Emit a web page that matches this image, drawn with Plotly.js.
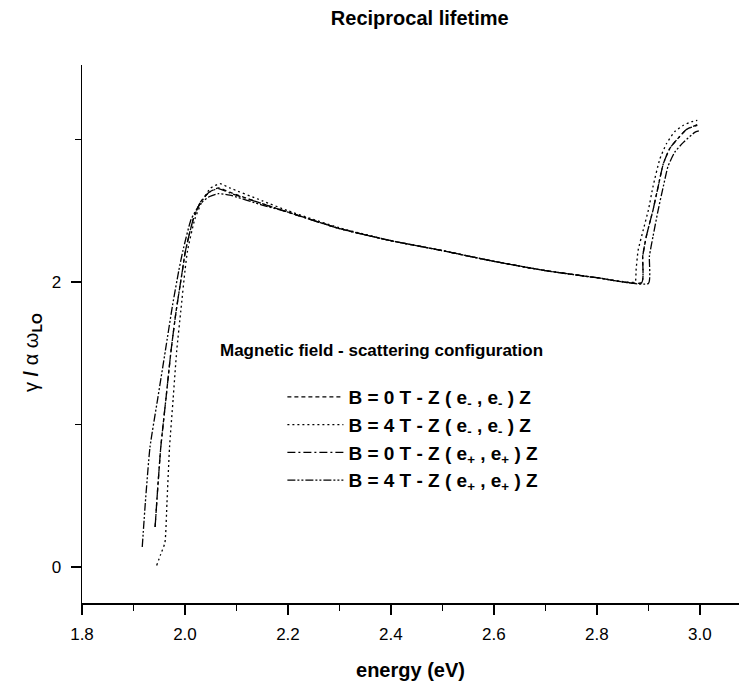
<!DOCTYPE html>
<html>
<head>
<meta charset="utf-8">
<script src="https://cdn.plot.ly/plotly-3.0.1.min.js"></script>
<style>html,body{margin:0;padding:0;background:#fff;}#chart{width:739px;height:692px;}</style>
</head>
<body>
<div id="chart"></div>
<script>
// B = 0 T - Z(e-,e-)  (dashed)
const energyA = [1.942,1.947,1.953,1.963,1.973,1.983,1.995,2.001,2.016,2.030,2.047,2.065,2.087,2.15,2.2,2.3,2.4,2.5,2.6,2.7,2.8,2.887,2.889,2.896,2.909,2.919,2.929,2.942,2.958,2.974,2.995];
const gammaA  = [0.28,0.55,0.84,1.18,1.52,1.80,2.08,2.22,2.44,2.56,2.63,2.66,2.63,2.55,2.49,2.375,2.29,2.22,2.145,2.08,2.03,1.995,2.18,2.32,2.505,2.67,2.83,2.94,3.01,3.07,3.105];
// B = 4 T - Z(e-,e-)  (dotted)
const energyB = [1.945,1.953,1.961,1.965,1.970,1.977,1.984,1.992,2.000,2.005,2.019,2.035,2.050,2.068,2.087,2.15,2.2,2.3,2.4,2.5,2.6,2.7,2.8,2.874,2.876,2.880,2.890,2.900,2.909,2.922,2.935,2.951,2.968,2.984,2.995];
const gammaB  = [0.01,0.09,0.17,0.45,0.84,1.18,1.52,1.80,2.08,2.22,2.44,2.58,2.66,2.69,2.66,2.57,2.50,2.38,2.29,2.22,2.145,2.08,2.03,2.0,2.08,2.22,2.365,2.505,2.67,2.86,2.97,3.055,3.10,3.125,3.135];
// B = 0 T - Z(e+,e+)  (dash-dot)
const energyC = [1.942,1.947,1.953,1.963,1.973,1.983,1.995,2.001,2.016,2.030,2.047,2.065,2.087,2.15,2.2,2.3,2.4,2.5,2.6,2.7,2.8,2.887,2.889,2.896,2.909,2.919,2.929,2.942,2.958,2.974,2.995];
const gammaC  = [0.28,0.55,0.84,1.18,1.52,1.80,2.08,2.22,2.44,2.56,2.63,2.655,2.625,2.55,2.49,2.375,2.29,2.22,2.145,2.08,2.03,1.995,2.18,2.32,2.505,2.67,2.83,2.94,3.01,3.07,3.10];
// B = 4 T - Z(e+,e+)  (dash-dot-dot)
const energyD = [1.917,1.923,1.932,1.947,1.962,1.976,1.988,1.996,2.012,2.030,2.048,2.065,2.087,2.15,2.2,2.3,2.4,2.5,2.6,2.7,2.8,2.900,2.902,2.909,2.919,2.929,2.938,2.951,2.968,2.990,2.998];
const gammaD  = [0.14,0.45,0.84,1.18,1.52,1.84,2.08,2.22,2.44,2.55,2.60,2.62,2.61,2.54,2.49,2.375,2.29,2.22,2.145,2.08,2.03,1.99,2.18,2.32,2.505,2.67,2.81,2.91,2.98,3.05,3.06];

const legendNames = [
  "B = 0 T - Z ( e<sub>-</sub> , e<sub>-</sub> ) Z",
  "B = 4 T - Z ( e<sub>-</sub> , e<sub>-</sub> ) Z",
  "B = 0 T - Z ( e<sub>+</sub> , e<sub>+</sub> ) Z",
  "B = 4 T - Z ( e<sub>+</sub> , e<sub>+</sub> ) Z"
];
const dashes = ["4px,3px", "2px,3px", "8px,3px,2px,3px", "8px,2px,2px,2px,2px,2px"];
const titleText = "Reciprocal lifetime";
const xTitle = "energy (eV)";
const yTitle = "γ <b>/</b> α ω<sub><b>LO</b></sub>";
const legendHeader = "Magnetic field - scattering configuration";

const FONT = "Liberation Sans, Arial, sans-serif";
const xs = [energyA, energyB, energyC, energyD];
const ys = [gammaA, gammaB, gammaC, gammaD];
const traces = xs.map((x, i) => ({
  x: x, y: ys[i], type: "scatter", mode: "lines", name: legendNames[i],
  line: {color: "#000", width: 1.3, dash: dashes[i], shape: "spline", smoothing: 0.5}
}));

const layout = {
  width: 739, height: 692,
  margin: {l: 82, r: 0, t: 65, b: 89},
  paper_bgcolor: "#fff", plot_bgcolor: "#fff",
  font: {family: FONT, color: "#000"},
  title: {text: "<b>" + titleText + "</b>", font: {size: 20, family: FONT}, x: 0.568, xanchor: "center", y: 0.974, yanchor: "middle"},
  xaxis: {
    range: [1.8, 3.076], showgrid: false, zeroline: false,
    showline: true, linecolor: "#000", linewidth: 1.5,
    ticks: "outside", ticklen: 10, tickwidth: 1.5, tickcolor: "#000",
    dtick: 0.2, tick0: 1.8, tickformat: ".1f", ticklabelstandoff: 5,
    tickfont: {size: 17, family: FONT},
    minor: {dtick: 0.1, ticks: "outside", ticklen: 6, tickwidth: 1.5, tickcolor: "#000"},
    title: {text: "<b>" + xTitle + "</b>", font: {size: 20, family: FONT}, standoff: 20}
  },
  yaxis: {
    range: [-0.253, 3.523], showgrid: false, zeroline: false,
    showline: true, linecolor: "#000", linewidth: 1.5,
    ticks: "outside", ticklen: 10, tickwidth: 1.5, tickcolor: "#000",
    dtick: 2, tick0: 0, ticklabelstandoff: 6,
    tickfont: {size: 17, family: FONT},
    minor: {dtick: 1, ticks: "outside", ticklen: 6, tickwidth: 1.5, tickcolor: "#000"}
  },
  showlegend: true,
  legend: {
    x: 0.305, xanchor: "left", y: 0.418, yanchor: "top",
    font: {size: 19, family: FONT, color: "#000", weight: "bold"},
    bgcolor: "rgba(0,0,0,0)", borderwidth: 0,
    itemwidth: 56, tracegroupgap: 0
  },
  annotations: [{
    text: "<b>" + legendHeader + "</b>", xref: "paper", yref: "paper",
    x: (381 - 82) / 657, y: (603 - 350) / 538, xanchor: "center", yanchor: "middle",
    showarrow: false, font: {size: 17, family: FONT, color: "#000"}
  }, {
    text: yTitle, xref: "paper", yref: "paper", textangle: -90,
    x: (32 - 82) / 657, y: (603 - 353) / 538, xanchor: "center", yanchor: "middle",
    showarrow: false, font: {size: 20, family: FONT, color: "#000"}
  }]
};
Plotly.newPlot("chart", traces, layout, {displayModeBar: false, staticPlot: true});
</script>
</body>
</html>
